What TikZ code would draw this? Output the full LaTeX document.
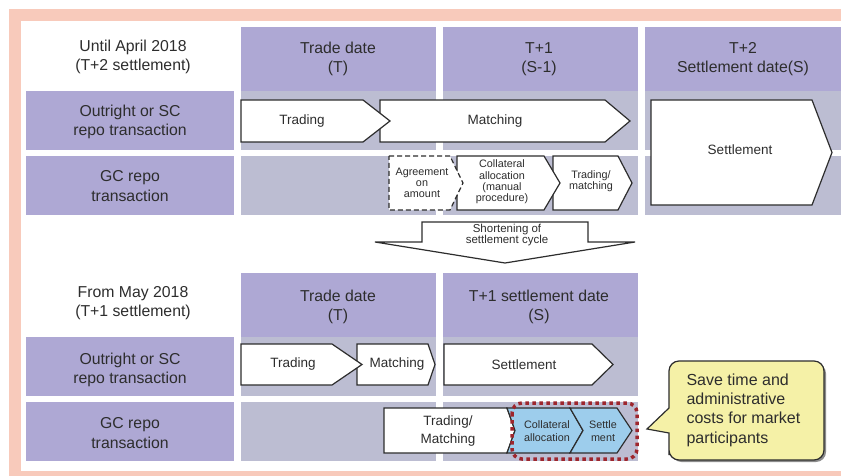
\documentclass[tikz,border=0pt]{standalone}
\usepackage{fontspec}
\setmainfont{Liberation Sans}
\usetikzlibrary{calc}

\definecolor{framepink}{RGB}{248,202,187}
\definecolor{headpurple}{RGB}{174,168,212}
\definecolor{cellgray}{RGB}{188,189,210}
\definecolor{stageblue}{RGB}{157,205,236}
\definecolor{noteyellow}{RGB}{245,241,167}
\definecolor{dotred}{RGB}{158,38,45}
\definecolor{ink}{RGB}{45,45,45}

\begin{document}
\begin{tikzpicture}[x=1pt, y=-1pt,
  lbl/.style={text=ink, align=center, font=\fontsize{15.8}{19.5}\selectfont},
  stagetext/.style={text=ink, align=center, font=\fontsize{13.5}{17.5}\selectfont},
  smalltext/.style={text=ink, align=center, font=\fontsize{10.8}{11.2}\selectfont},
  stagebox/.style={draw=ink, fill=white, line width=1.2pt},
  headcell/.style={fill=headpurple},
  graycell/.style={fill=cellgray}]
\fill [white] (0,0) rectangle (841,476);
\useasboundingbox (0,0) rectangle (841,476);

% frame
\fill [framepink] (9,9) rectangle (841,21);
\fill [framepink] (9,21) rectangle (21,476);
\fill [framepink] (21,471) rectangle (841,476);

% until April 2018
\foreach \xa/\xb in {241/436, 443/638, 645/841} {
  \fill [headcell] (\xa,27) rectangle (\xb,91);
  \fill [graycell] (\xa,91) rectangle (\xb,150);
  \fill [graycell] (\xa,156) rectangle (\xb,215);
}
\fill [headcell] (26,91) rectangle (234,150);
\fill [headcell] (26,156) rectangle (234,215);

\node [lbl] (untilhd) at (133,57) {Until April 2018\\(T+2 settlement)};
\node [lbl] (tradehd) at (338,59) {Trade date\\(T)};
\node [lbl] (tonehd) at (539,59) {T+1\\(S-1)};
\node [lbl] (ttwohd) at (743,59) {T+2\\Settlement date(S)};
\node [lbl] (outrightA) at (130,122) {Outright or SC\\repo transaction};
\node [lbl] (gcA) at (130,186) {GC repo\\transaction};

\draw [stagebox] (380,100) -- (605,100) -- (630,121) -- (605,142) -- (380,142) -- cycle;
\node [stagetext] (matchA) at (495,121) {Matching};
\draw [stagebox] (241,100) -- (363,100) -- (390,121) -- (363,142) -- (241,142) -- cycle;
\node [stagetext] (tradingA) at (302,121) {Trading};
\draw [stagebox] (651,100) -- (812,100) -- (832,152.5) -- (812,205) -- (651,205) -- cycle;
\node [stagetext] (settleA) at (740,150) {Settlement};

\draw [stagebox] (553,156) -- (618,156) -- (632,183) -- (618,210) -- (553,210) -- cycle;
\node [smalltext] (tradmatA) at (591,181) {Trading/\\matching};
\draw [stagebox] (457,156) -- (544,156) -- (560,183) -- (544,210) -- (457,210) -- cycle;
\node [smalltext] (collA) at (502,182) {Collateral\\allocation\\(manual\\procedure)};
\draw [stagebox, dash pattern=on 5pt off 3pt] (389,156) -- (450,156) -- (463,183) -- (450,210) -- (389,210) -- cycle;
\node [smalltext] (agreeA) at (422,183) {Agreement\\on\\amount};

% shortening arrow
\draw [stagebox] (422,222) -- (588,222) -- (588,242) -- (635,242) -- (505,263) -- (375,242) -- (422,242) -- cycle;
\node [smalltext, font=\fontsize{11.5}{11.5}\selectfont] (shorten) at (507,235) {Shortening of\\settlement cycle};

% from May 2018
\foreach \xa/\xb in {241/436, 443/638} {
  \fill [headcell] (\xa,273) rectangle (\xb,337);
  \fill [graycell] (\xa,337) rectangle (\xb,396);
  \fill [graycell] (\xa,402) rectangle (\xb,461);
}
\fill [headcell] (26,337) rectangle (234,396);
\fill [headcell] (26,402) rectangle (234,461);

\node [lbl] (fromhd) at (133,303) {From May 2018\\(T+1 settlement)};
\node [lbl] (tradehdB) at (338,307) {Trade date\\(T)};
\node [lbl] (settlehdB) at (539,307) {T+1 settlement date\\(S)};
\node [lbl] (outrightB) at (130,370) {Outright or SC\\repo transaction};
\node [lbl] (gcB) at (130,433) {GC repo\\transaction};

\draw [stagebox] (357,344) -- (428,344) -- (435,364.5) -- (428,385) -- (357,385) -- cycle;
\node [stagetext] (matchB) at (397,364.5) {Matching};
\draw [stagebox] (241,344) -- (332,344) -- (362,364.5) -- (332,385) -- (241,385) -- cycle;
\node [stagetext] (tradingB) at (293,364.5) {Trading};
\draw [stagebox] (444,344) -- (592,344) -- (613,364.5) -- (592,385) -- (444,385) -- cycle;
\node [stagetext] (settleB) at (524,364.5) {Settlement};

\draw [stagebox] (384,408) -- (507,408) -- (515,430.5) -- (507,453) -- (384,453) -- cycle;
\node [stagetext] (tradmatB) at (448,431) {Trading/\\Matching};
\draw [stagebox, fill=stageblue] (507,408) -- (570,408) -- (583,430.5) -- (570,453) -- (507,453) -- (515,430.5) -- cycle;
\node [smalltext, font=\fontsize{10.8}{12.5}\selectfont] (collB) at (547,431) {Collateral\\allocation};
\draw [stagebox, fill=stageblue] (570,408) -- (617,408) -- (632,430.5) -- (617,453) -- (570,453) -- (583,430.5) -- cycle;
\node [smalltext, font=\fontsize{10.8}{12.5}\selectfont] (settleC) at (603,431) {Settle\\ment};

\draw [dotred, line width=3.5pt, dash pattern=on 3.5pt off 3.5pt, rounded corners=10pt] (512,403) rectangle (637,459);

% note
\fill [black!45] (671.5,363.5) [rounded corners=10pt] rectangle (826,462);
\draw [draw=ink, fill=noteyellow, line width=1.2pt] (669,395) [rounded corners=10pt] -- (669,361) -- (824,361) -- (824,460) -- (669,460) -- (669,445) [sharp corners] -- (669,433) -- (647,429) -- (669,408) -- cycle;
\node [text=ink, align=left, anchor=west, font=\fontsize{16}{19.4}\selectfont] (savenote) at (683,410) {Save time and\\administrative\\costs for market\\participants};
\end{tikzpicture}
\end{document}
